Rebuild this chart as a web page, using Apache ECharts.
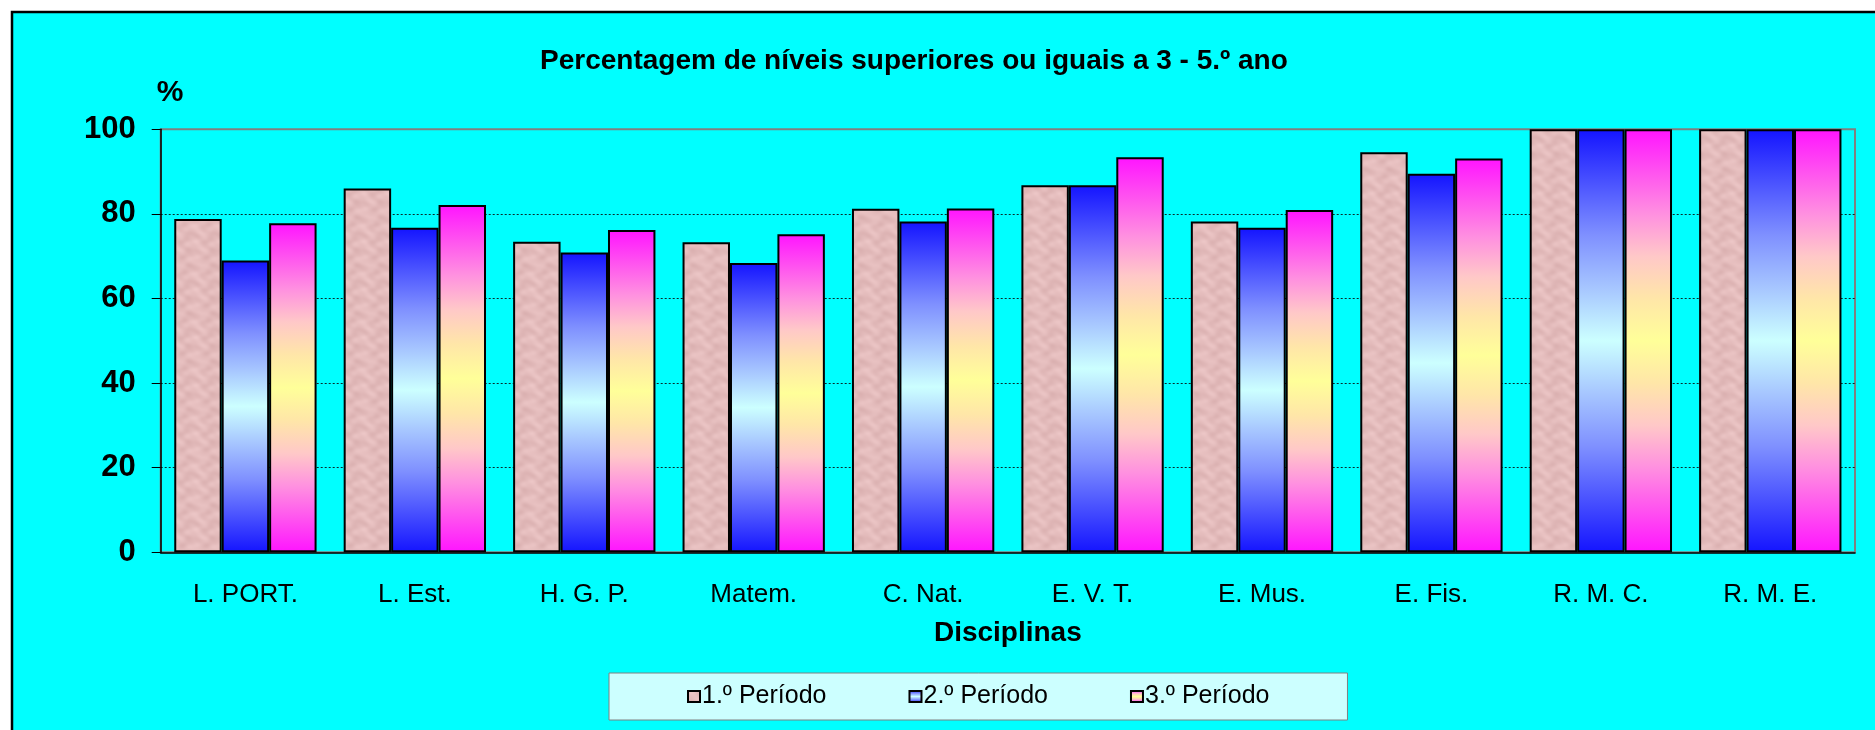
<!DOCTYPE html>
<html>
<head>
<meta charset="utf-8">
<script src="https://cdn.jsdelivr.net/npm/echarts@6/dist/echarts.min.js"></script>
<style>
  html, body { margin: 0; padding: 0; background: #fff; }
  #main { width: 1875px; height: 730px; }
</style>
</head>
<body>
<div id="main"></div>
<script>
let chartDom = document.getElementById('main');
let myChart = echarts.init(chartDom);
let option;

// data
const categories = ['L. PORT.', 'L. Est.', 'H. G. P.', 'Matem.', 'C. Nat.', 'E. V. T.', 'E. Mus.', 'E. Fis.', 'R. M. C.', 'R. M. E.'];
const periodo1 = [78.8, 86.0, 73.4, 73.3, 81.2, 86.8, 78.2, 94.6, 100, 100];
const periodo2 = [69.0, 76.7, 70.9, 68.4, 78.2, 86.8, 76.7, 89.5, 100, 100];
const periodo3 = [77.8, 82.1, 76.2, 75.2, 81.3, 93.4, 80.9, 93.1, 100, 100];
const seriesNames = ['1.º Período', '2.º Período', '3.º Período'];
const yMin = 0, yMax = 100, yStep = 20;

// mottled pink texture for the first series
function pinkTexture() {
    let c = document.createElement('canvas');
    c.width = 48; c.height = 48;
    let ctx = c.getContext('2d');
    let img = ctx.createImageData(48, 48);
    for (let y = 0; y < 48; y++) {
        for (let x = 0; x < 48; x++) {
            let a = 2 * Math.PI / 48;
            let v = Math.sin(x * a * 2 + Math.sin(y * a * 3) * 1.5) +
                    Math.sin(y * a * 3 + Math.cos(x * a * 2) * 1.5) +
                    0.4 * Math.sin((x - y) * a * 4);
            let t = (v + 2.4) / 4.8;
            let i = (y * 48 + x) * 4;
            img.data[i] = 218 + t * 18;
            img.data[i + 1] = 176 + t * 22;
            img.data[i + 2] = 176 + t * 22;
            img.data[i + 3] = 255;
        }
    }
    ctx.putImageData(img, 0, 0);
    return c;
}

const blueFill = new echarts.graphic.LinearGradient(0, 0, 0, 1, [
    { offset: 0, color: '#1414ff' },
    { offset: 0.25, color: '#7f90ff' },
    { offset: 0.38, color: '#a8c8ff' },
    { offset: 0.5, color: '#ccffff' },
    { offset: 0.62, color: '#a8c8ff' },
    { offset: 0.75, color: '#7f90ff' },
    { offset: 1, color: '#1414ff' }
]);
const pinkYellowFill = new echarts.graphic.LinearGradient(0, 0, 0, 1, [
    { offset: 0, color: '#ff14ff' },
    { offset: 0.2, color: '#ff90e0' },
    { offset: 0.3, color: '#ffc8c8' },
    { offset: 0.4, color: '#ffe6a8' },
    { offset: 0.5, color: '#ffff99' },
    { offset: 0.6, color: '#ffe6a8' },
    { offset: 0.7, color: '#ffc8c8' },
    { offset: 0.8, color: '#ff90e0' },
    { offset: 1, color: '#ff14ff' }
]);
const fills = [{ image: pinkTexture(), repeat: 'repeat' }, blueFill, pinkYellowFill];
const values = [periodo1, periodo2, periodo3];
const gridDot = '#0a2a2a';

option = {
    backgroundColor: '#ffffff',
    animation: false,
    graphic: [{
        type: 'rect',
        z: -100,
        silent: true,
        shape: { x: 12, y: 12, width: 1880, height: 730 },
        style: { fill: '#00ffff', stroke: '#000', lineWidth: 2.5 }
    }],
    title: {
        text: 'Percentagem de níveis superiores ou iguais a 3 - 5.º ano',
        left: 540,
        top: 47,
        padding: 0,
        textStyle: {
            fontFamily: 'Liberation Sans, Arial, sans-serif',
            fontWeight: 'bold',
            fontSize: 28,
            color: '#000'
        }
    },
    legend: {
        data: seriesNames,
        left: 609,
        top: 673,
        padding: [11, 78],
        itemGap: 82,
        itemWidth: 12,
        itemHeight: 11,
        icon: 'rect',
        backgroundColor: '#ccffff',
        borderColor: '#808080',
        borderWidth: 1,
        borderRadius: 0,
        itemStyle: { borderColor: '#000', borderWidth: 2 },
        textStyle: {
            fontFamily: 'Liberation Sans, Arial, sans-serif',
            fontSize: 25,
            color: '#000',
            padding: [0, 0, 0, -3]
        }
    },
    grid: {
        left: 160.7,
        right: 20,
        top: 129.3,
        bottom: 177.7,
        show: true,
        backgroundColor: 'transparent',
        borderColor: '#808080',
        borderWidth: 2
    },
    xAxis: {
        type: 'category',
        data: categories,
        name: 'Disciplinas',
        nameLocation: 'middle',
        nameGap: 67,
        nameTextStyle: {
            fontFamily: 'Liberation Sans, Arial, sans-serif',
            fontWeight: 'bold',
            fontSize: 28,
            color: '#000'
        },
        axisLine: { lineStyle: { color: '#000', width: 1.5 } },
        axisTick: { length: 7, lineStyle: { color: '#000' } },
        axisLabel: {
            margin: 30,
            fontFamily: 'Liberation Sans, Arial, sans-serif',
            fontSize: 26,
            color: '#000'
        }
    },
    yAxis: {
        type: 'value',
        min: yMin,
        max: yMax,
        interval: yStep,
        name: '%',
        nameLocation: 'end',
        nameGap: 22,
        nameTextStyle: {
            fontFamily: 'Liberation Sans, Arial, sans-serif',
            fontWeight: 'bold',
            fontSize: 30,
            color: '#000',
            align: 'left',
            padding: [0, 0, 0, -4]
        },
        axisLine: { show: true, lineStyle: { color: '#000', width: 1.5 } },
        axisTick: { show: true, length: 9, lineStyle: { color: '#000' } },
        axisLabel: {
            margin: 25,
            fontFamily: 'Liberation Sans, Arial, sans-serif',
            fontWeight: 'bold',
            fontSize: 31,
            color: '#000'
        },
        splitLine: {
            lineStyle: {
                color: ['transparent', gridDot, gridDot, gridDot, gridDot, 'transparent'],
                type: [2, 2],
                width: 1
            }
        }
    },
    series: seriesNames.map(function (name, k) {
        return {
            name: name,
            type: 'bar',
            barGap: '0%',
            barCategoryGap: '16%',
            data: values[k],
            itemStyle: {
                color: fills[k],
                borderColor: '#000',
                borderWidth: 2
            }
        };
    })
};

myChart.setOption(option);
</script>
</body>
</html>
